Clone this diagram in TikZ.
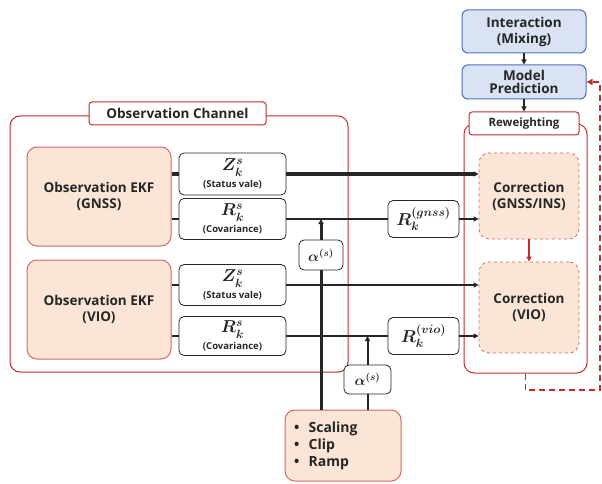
\documentclass[tikz,border=0pt]{standalone}
\usepackage{amsmath}
\usepackage{fontspec}
\setmainfont{Open Sans}
\usetikzlibrary{arrows.meta,positioning}
\definecolor{tx}{HTML}{262626}
\definecolor{bl}{HTML}{DAE3F3}
\definecolor{bd}{HTML}{4A72B8}
\definecolor{pc}{HTML}{FBE5D6}
\definecolor{pb}{HTML}{D46A6A}
\definecolor{rd}{HTML}{C42B2B}
\newcommand{\meas}[2]{{\fontsize{18}{18}\selectfont$\boldsymbol{#1_k^s}$}\\[3pt]{\fontsize{9.5}{10}\selectfont (#2)}}
\newcommand{\alphas}{{\fontsize{14}{14}\selectfont$\boldsymbol{\alpha^{(s)}}$}}

\begin{document}
\begin{tikzpicture}[x=1pt,y=-1pt,
  every node/.style={text=tx, inner sep=0pt, align=center},
  label font/.style={font=\bfseries\fontsize{13.5}{16}\selectfont},
  blue box/.style={draw=bd, line width=1pt, fill=bl, rounded corners=6pt, label font},
  ekf box/.style={draw=pb, line width=1pt, fill=pc, rounded corners=10pt, label font},
  corr box/.style={draw=pb, dashed, line width=0.8pt, fill=pc, rounded corners=10pt, label font},
  sig box/.style={draw=tx, line width=0.8pt, fill=white, rounded corners=5pt, font=\bfseries},
  panel/.style={draw=rd, line width=1pt, rounded corners=10pt},
  title box/.style={draw=rd, line width=1pt, fill=white, rounded corners=3pt},
  flow/.style={draw=tx, -{Triangle[length=5pt,width=5pt]}}]
  \useasboundingbox (0,0) rectangle (602,484);

  % panels
  \node[panel, minimum width=338pt, minimum height=256pt] (chan) at (179,244) {};
  \node[panel, minimum width=123pt, minimum height=249pt] (corr) at (525.5,248.5) {};
  \node[title box, minimum width=177pt, minimum height=23pt, label font] (chantitle) at (177.5,113.5) {Observation Channel};
  \node[title box, minimum width=110pt, minimum height=23pt, font=\bfseries\fontsize{11.5}{12}\selectfont] (rew) at (524,123.5) {Reweighting};

  % IMM blocks
  \node[blue box, minimum width=124pt, minimum height=43pt] (mix) at (524,31.5) {Interaction\\(Mixing)};
  \node[blue box, minimum width=124pt, minimum height=34pt] (pred) at (524,82) {Model\\[-3pt]Prediction};

  % observation filters
  \node[ekf box, minimum width=144pt, minimum height=99pt] (ekfg) at (99,196.5) {Observation EKF\\(GNSS)};
  \node[ekf box, minimum width=144pt, minimum height=99pt] (ekfv) at (99,309.5) {Observation EKF\\(VIO)};

  \node[sig box, minimum width=107pt, minimum height=42pt] (zg) at (232.5,174) {\meas{Z}{Status vale}};
  \node[sig box, minimum width=107pt, minimum height=41pt] (rg) at (232.5,219) {\meas{R}{Covariance}};
  \node[sig box, minimum width=107pt, minimum height=41pt] (zv) at (232.5,285) {\meas{Z}{Status vale}};
  \node[sig box, minimum width=107pt, minimum height=39pt] (rv) at (232.5,336) {\meas{R}{Covariance}};

  \node[sig box, minimum width=71pt, minimum height=37pt] (rgnss) at (423.5,219) {\fontsize{18}{18}\selectfont$\boldsymbol{R_k^{(gnss)}}$};
  \node[sig box, minimum width=71pt, minimum height=37pt] (rvio) at (423.5,336) {\fontsize{18}{18}\selectfont$\boldsymbol{R_k^{(vio)}}$};

  \node[corr box, minimum width=100pt, minimum height=86pt] (corrg) at (529,196) {Correction\\(GNSS/INS)};
  \node[corr box, minimum width=100pt, minimum height=91pt] (corrv) at (529,307.5) {Correction\\(VIO)};

  \node[sig box, minimum width=44pt, minimum height=30pt] (alpha1) at (321,255) {\alphas};
  \node[sig box, minimum width=47pt, minimum height=29pt] (alpha2) at (367.5,379.5) {\alphas};

  \node[ekf box, minimum width=116pt, minimum height=71pt, text width=98pt, align=left, font=\bfseries\fontsize{14}{17}\selectfont] (scal) at (343,445.5)
    {\textbullet\ \ Scaling\\\textbullet\ \ Clip\\\textbullet\ \ Ramp};

  \coordinate (fb) at (600,390);

  % IMM flow
  \draw[flow, line width=1.5pt] (mix) -- (pred);
  \draw[flow, line width=1.5pt] (pred) -- (rew);
  \draw[draw=rd, line width=1.6pt, dash pattern=on 6pt off 4pt, -{Triangle[length=6pt,width=6pt]}]
    (corr.south) |- (fb) |- (pred.east);
  \draw[draw=rd, line width=2pt, -{Triangle[length=5pt,width=5pt]}] (corrg) -- (corrv);

  % GNSS measurement paths
  \draw[draw=tx, line width=3.5pt] (ekfg.east |- zg.west) -- (zg.west);
  \draw[flow, line width=3.5pt] (zg.east) -- (zg.east -| corrg.west);
  \draw[draw=tx, line width=1.2pt] (ekfg.east |- rg.west) -- (rg.west);
  \draw[draw=tx, line width=2.2pt] (rg.east) -- (rgnss.west);
  \draw[flow, line width=2.2pt] (rgnss.east) -- (rgnss.east -| corrg.west);

  % VIO measurement paths
  \draw[draw=tx, line width=1.2pt] (ekfv.east |- zv.west) -- (zv.west);
  \draw[flow, line width=2pt] (zv.east) -- (zv.east -| corrv.west);
  \draw[draw=tx, line width=1.2pt] (ekfv.east |- rv.west) -- (rv.west);
  \draw[draw=tx, line width=1.8pt] (rv.east) -- (rvio.west);
  \draw[flow, line width=1.5pt] (rvio.east) -- (rvio.east -| corrv.west);

  % scaling factors
  \draw[draw=tx, line width=3pt] (alpha1 |- scal.north) -- (alpha1.south);
  \draw[flow, line width=3pt] (alpha1.north) -- (alpha1 |- rg.east);
  \draw[draw=tx, line width=2pt] (alpha2 |- scal.north) -- (alpha2.south);
  \draw[flow, line width=2pt] (alpha2.north) -- (alpha2 |- rv.east);
\end{tikzpicture}
\end{document}
